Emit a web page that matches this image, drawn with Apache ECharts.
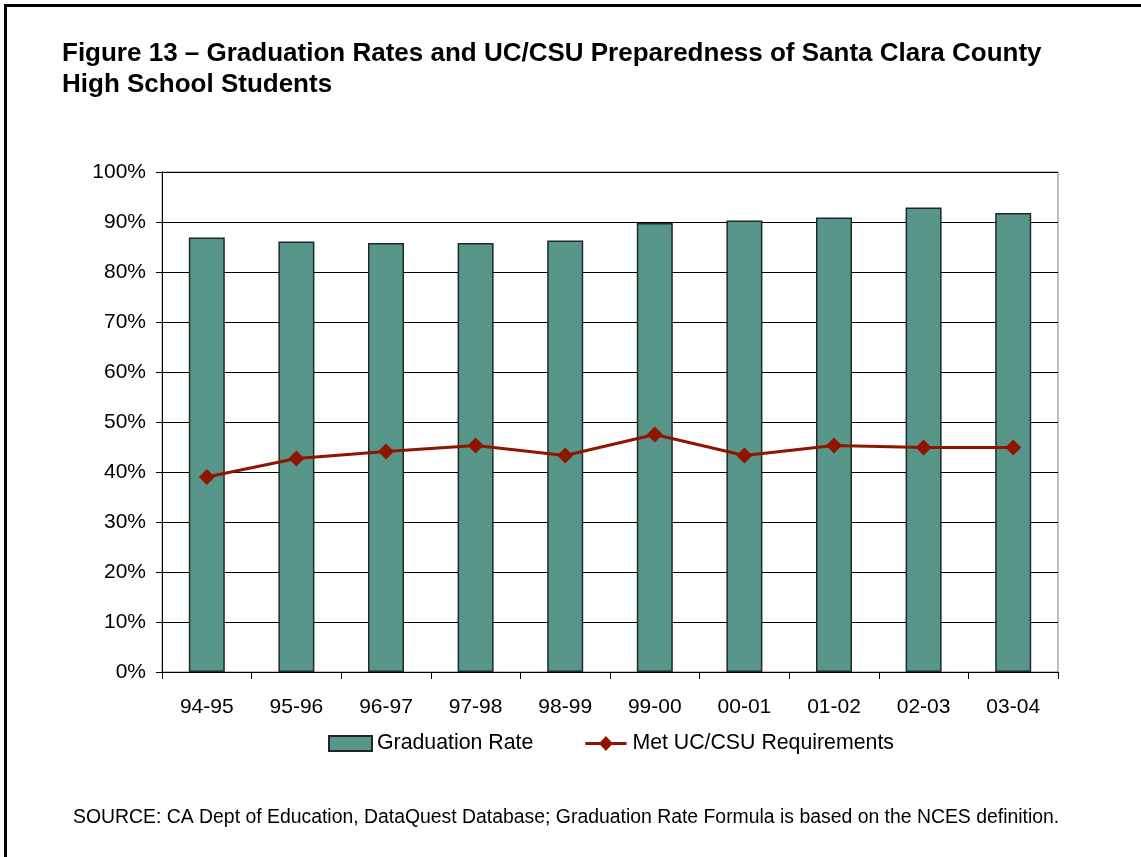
<!DOCTYPE html>
<html>
<head>
<meta charset="utf-8">
<style>
  html, body { margin: 0; padding: 0; background: #fff; }
  #chart { width: 1141px; height: 857px; }
</style>
<script src="https://cdn.jsdelivr.net/npm/echarts@6/dist/echarts.min.js"></script>
</head>
<body>
<div id="chart"></div>
<script>
const categories = ['94-95', '95-96', '96-97', '97-98', '98-99', '99-00', '00-01', '01-02', '02-03', '03-04'];
const graduationRate = [86.9, 86.1, 85.8, 85.8, 86.3, 89.8, 90.3, 90.9, 92.9, 91.8];
const metUcCsu = [39.0, 42.7, 44.1, 45.3, 43.3, 47.5, 43.3, 45.3, 44.9, 44.9];
const yTicks = [0, 10, 20, 30, 40, 50, 60, 70, 80, 90, 100];
const seriesNames = ['Graduation Rate', 'Met UC/CSU Requirements'];
const titleText = 'Figure 13 \u2013 Graduation Rates and UC/CSU Preparedness of Santa Clara County\nHigh School Students';
const sourceText = 'SOURCE: CA Dept of Education, DataQuest Database; Graduation Rate Formula is based on the NCES definition.';

const FONT = '"Liberation Sans", Arial, sans-serif';
const LINE_COLOR = '#8F1500';
const chart = echarts.init(document.getElementById('chart'), null, { renderer: 'canvas' });

chart.setOption({
  animation: false,
  backgroundColor: '#ffffff',
  textStyle: { fontFamily: FONT },
  title: {
    text: titleText,
    left: 62,
    top: 38,
    padding: 0,
    textStyle: {
      fontFamily: FONT,
      fontWeight: 'bold',
      fontSize: 26,
      lineHeight: 31,
      color: '#000'
    }
  },
  graphic: [
    {
      type: 'rect',
      shape: { x: 5.5, y: 5.5, width: 1300, height: 1000 },
      style: { fill: 'none', stroke: '#000', lineWidth: 3 },
      silent: true
    },
    {
      type: 'text',
      left: 73,
      top: 808,
      style: {
        text: sourceText,
        font: '19.4px "Liberation Sans", Arial, sans-serif',
        fill: '#000'
      }
    }
  ],
  legend: {
    left: 328,
    top: 733,
    padding: 0,
    itemWidth: 43,
    itemHeight: 15,
    itemGap: 52,
    textStyle: { fontFamily: FONT, fontSize: 21.3, color: '#000' },
    data: [
      { name: seriesNames[0], icon: 'rect' },
      {
        name: seriesNames[1],
        icon: 'path://M0 6.5 L44 6.5 L44 9.5 L0 9.5 Z M22 0 L29.5 8 L22 16 L14.5 8 Z',
        itemStyle: { color: LINE_COLOR, borderWidth: 0 }
      }
    ]
  },
  grid: {
    left: 162,
    right: 83,
    top: 172,
    bottom: 185,
    show: true,
    borderColor: '#808080',
    borderWidth: 1,
    backgroundColor: 'transparent'
  },
  xAxis: {
    type: 'category',
    data: categories,
    boundaryGap: true,
    axisLine: { lineStyle: { color: '#000', width: 1 } },
    axisTick: { show: true, length: 7, inside: false, lineStyle: { color: '#000' } },
    axisLabel: { fontFamily: FONT, fontSize: 21, color: '#000', margin: 25 },
    splitLine: { show: false }
  },
  yAxis: {
    type: 'value',
    min: 0,
    max: 100,
    interval: 10,
    axisLine: { show: true, lineStyle: { color: '#000', width: 1 } },
    axisTick: { show: true, length: 6, lineStyle: { color: '#000' } },
    axisLabel: {
      fontFamily: FONT,
      fontSize: 21,
      color: '#000',
      margin: 16,
      formatter: function (v) { return yTicks.indexOf(v) >= 0 ? v + '%' : ''; }
    },
    splitLine: { show: true, lineStyle: { color: '#000', width: 1 } }
  },
  series: [
    {
      name: seriesNames[0],
      type: 'bar',
      data: graduationRate,
      barWidth: 36,
      itemStyle: { color: '#58968A', borderColor: '#1c2b28', borderWidth: 1.5 },
      z: 2
    },
    {
      name: seriesNames[1],
      type: 'line',
      data: metUcCsu,
      symbol: 'diamond',
      symbolSize: 16,
      lineStyle: { color: LINE_COLOR, width: 3 },
      itemStyle: { color: LINE_COLOR },
      z: 5
    }
  ]
});
</script>
</body>
</html>
